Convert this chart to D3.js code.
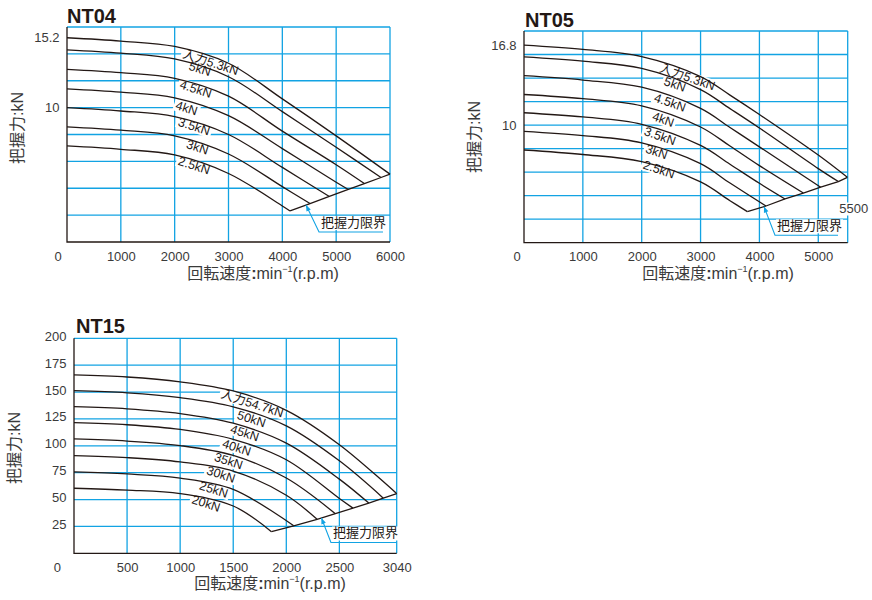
<!DOCTYPE html>
<html>
<head>
<meta charset="utf-8">
<script src="https://cdn.jsdelivr.net/npm/d3@7"></script>
<style>
  body { margin: 0; background: #fff; }
  svg { font-family: "Liberation Sans", Arial, "Noto Sans CJK JP", sans-serif; }
</style>
</head>
<body>
<div class="chart"></div>
<script>
// ---------- data ----------

// NT04 : grip force (kN) vs speed (min-1), one curve per input force
var nt04Labels = ["入力5.3kN", "5kN", "4.5kN", "4kN", "3.5kN", "3kN", "2.5kN"];
var nt04Rpm = [0, 1000, 2000, 3000, 4000, 5000];
var nt04Force = [
  [15.2, 14.95, 14.55, 13.3, 10.65, 7.9],
  [14.3, 14.05, 13.62, 12.3, 9.7, 7.05],
  [12.85, 12.6, 12.18, 10.85, 8.25, 5.75],
  [11.4, 11.15, 10.73, 9.4, 6.95, 4.45],
  [10.0, 9.75, 9.33, 8.0, 5.55],
  [8.57, 8.32, 7.9, 6.55, 4.12],
  [7.15, 6.9, 6.48, 5.1, 2.68]
];
var nt04EndRpm = [6000, 5833, 5523, 5226, 4873, 4514, 4143];
var nt04EndForce = [5.05, 4.8, 4.35, 3.91, 3.39, 2.86, 2.31];
var nt04XTicks = [1000, 2000, 3000, 4000, 5000, 6000];
var nt04YTicks = [15.2, 10];

// NT05
var nt05Labels = ["入力5.3kN", "5kN", "4.5kN", "4kN", "3.5kN", "3kN", "2.5kN"];
var nt05Rpm = [0, 1000, 2000, 3000, 3500, 4000, 5000];
var nt05Force = [
  [16.8, 16.43, 15.82, 14.12, 12.55, 10.9, 7.45],
  [15.8, 15.43, 14.82, 13.02, 11.4, 9.75, 6.3],
  [14.2, 13.83, 13.22, 11.42, 9.8, 8.15],
  [12.6, 12.25, 11.64, 9.84, 8.22, 6.55],
  [11.05, 10.69, 10.07, 8.27, 6.67, 5.05],
  [9.47, 9.11, 8.49, 6.72, 5.07],
  [7.88, 7.5, 6.89, 5.17, 3.57]
];
var nt05EndRpm = [5494, 5341, 5041, 4746, 4435, 4112, 3795];
var nt05EndForce = [5.56, 5.2, 4.72, 4.22, 3.72, 3.12, 2.64];
var nt05XTicks = [1000, 2000, 3000, 4000, 5000];
var nt05YTicks = [16.8, 10];

// NT15
var nt15Labels = ["入力54.7kN", "50kN", "45kN", "40kN", "35kN", "30kN", "25kN", "20kN"];
var nt15Rpm = [0, 500, 1000, 1500, 2000, 2500];
var nt15Force = [
  [166, 164, 159.5, 151, 133, 101],
  [151.3, 149.3, 144.8, 136.3, 118.5, 86],
  [136.4, 134.4, 130, 121, 102.5, 69],
  [121.6, 119.6, 115.2, 106, 87, 51],
  [106.4, 104.4, 100.2, 91, 70],
  [90.9, 89, 85, 76.5, 54],
  [75.7, 73.8, 70, 59.5],
  [60.5, 58.8, 55.5, 44]
];
var nt15EndRpm = [3040, 2914, 2777, 2628, 2462, 2290, 2070, 1860];
var nt15EndForce = [55.5, 51.3, 46.7, 42, 36.8, 31.6, 25.6, 20.1];
var nt15XTicks = [500, 1000, 1500, 2000, 2500, 3040];
var nt15YTicks = [25, 50, 75, 100, 125, 150, 175, 200];

// ---------- styling ----------
var blue = "#12a3e3";
var ink = "#231815";
var gray = "#3a3a3a";

var svg = d3.select(".chart")
  .append("svg")
  .attr("width", 872)
  .attr("height", 600);

// panel layouts (positions only, values come from the arrays above)
var panels = [
  {
    title: "NT04", labels: nt04Labels, rpm: nt04Rpm, force: nt04Force,
    endRpm: nt04EndRpm, endForce: nt04EndForce, xTicks: nt04XTicks, yTicks: nt04YTicks,
    xMax: 6000, yMax: 16, xGrid: d3.range(1000, 6001, 1000), yGrid: d3.range(2, 17, 2),
    left: 67, right: 390, top: 27, bottom: 242,
    titleX: 67, titleY: 23, yTitleX: 17, yTitleY: 128, xTitleX: 263, xTitleY: 279,
    zeroX: 58, xPad: 9.5,
    labelAngle: 18,
    labelPos: [[2671, 13.38], [2471, 12.89], [2393, 11.4], [2224, 9.97], [2363, 8.61], [2424, 7.06], [2363, 5.7]],
    tipRpm: 4440, elbow: [13, 27], underlineEnd: 383
  },
  {
    title: "NT05", labels: nt05Labels, rpm: nt05Rpm, force: nt05Force,
    endRpm: nt05EndRpm, endForce: nt05EndForce, xTicks: nt05XTicks, yTicks: nt05YTicks,
    xMax: 5500, yMax: 18, xGrid: [1000, 2000, 3000, 4000, 5000, 5500], yGrid: d3.range(2, 19, 2),
    left: 524, right: 847.7, top: 31, bottom: 242.7,
    titleX: 525, titleY: 26.7, yTitleX: 474, yTitleY: 137, xTitleX: 718, xTitleY: 279,
    zeroX: 517, xPad: 9.5,
    labelAngle: 19,
    labelPos: [[2778, 14.1], [2566, 13.47], [2481, 11.93], [2367, 10.49], [2311, 9.07], [2255, 7.73], [2294, 6.24]],
    tipRpm: 4078, elbow: [11, 28.7], underlineEnd: 838,
    endLabel: "5500"
  },
  {
    title: "NT15", labels: nt15Labels, rpm: nt15Rpm, force: nt15Force,
    endRpm: nt15EndRpm, endForce: nt15EndForce, xTicks: nt15XTicks, yTicks: nt15YTicks,
    xMax: 3040, yMax: 200, xGrid: nt15XTicks, yGrid: nt15YTicks,
    left: 74, right: 396.7, top: 338.3, bottom: 553.3,
    titleX: 76, titleY: 333.3, yTitleX: 14, yTitleY: 448, xTitleX: 270, xTitleY: 589,
    zeroX: 57.3, xPad: 9,
    labelAngle: 18,
    labelPos: [[1681, 139.5], [1673, 125], [1609, 112], [1533, 98.5], [1457, 86], [1385, 73.5], [1317, 59.5], [1245, 46.5]],
    tipRpm: 2331, elbow: [9.5, 24.5], underlineEnd: 396.7
  }
];

panels.forEach(drawPanel);

function drawPanel(p) {
  var x = d3.scaleLinear().domain([0, p.xMax]).range([p.left, p.right]);
  var y = d3.scaleLinear().domain([0, p.yMax]).range([p.bottom, p.top]);

  var g = svg.append("g");
  var gridG = g.append("g");
  var bgG = g.append("g");
  var curveG = g.append("g");
  var axisG = g.append("g");
  var textG = g.append("g");

  // blue grid (the last line of each set is the top / right frame)
  gridG.selectAll(".vg")
    .data(p.xGrid)
    .enter()
    .append("line")
    .attr("x1", d => x(d)).attr("x2", d => x(d))
    .attr("y1", p.top).attr("y2", p.bottom)
    .attr("stroke", blue).attr("stroke-width", 1.3);

  gridG.selectAll(".hg")
    .data(p.yGrid)
    .enter()
    .append("line")
    .attr("x1", p.left).attr("x2", p.right)
    .attr("y1", d => y(d)).attr("y2", d => y(d))
    .attr("stroke", blue).attr("stroke-width", 1.3);

  // curves
  var line = d3.line()
    .x(d => x(d[0]))
    .y(d => y(d[1]))
    .curve(d3.curveCatmullRom.alpha(0.5));

  var series = p.force.map(function(vals, i) {
    var pts = vals.map((v, j) => [p.rpm[j], v]);
    pts.push([p.endRpm[i], p.endForce[i]]);
    return pts;
  });

  curveG.selectAll("path")
    .data(series)
    .enter()
    .append("path")
    .attr("d", line)
    .attr("fill", "none")
    .attr("stroke", ink)
    .attr("stroke-width", 1.3);

  // grip limit line through the curve ends
  var ends = p.endRpm.map((r, i) => [r, p.endForce[i]]).sort((a, b) => a[0] - b[0]);
  curveG.append("path")
    .attr("d", d3.line().x(d => x(d[0])).y(d => y(d[1]))(ends))
    .attr("fill", "none")
    .attr("stroke", ink)
    .attr("stroke-width", 1.3);

  // black left / bottom axes
  axisG.append("path")
    .attr("d", `M${p.left},${p.top}V${p.bottom}H${p.right}`)
    .attr("fill", "none")
    .attr("stroke", ink)
    .attr("stroke-width", 1.3);

  // curve labels, with white boxes that break the grid behind them
  p.labels.forEach(function(t, i) {
    var pos = p.labelPos[i];
    var tr = `translate(${x(pos[0])},${y(pos[1])}) rotate(${p.labelAngle})`;
    var txt = textG.append("text")
      .attr("transform", tr)
      .attr("text-anchor", "middle")
      .attr("dy", "0.35em")
      .attr("font-size", 12.5)
      .attr("fill", ink)
      .text(t);
    var bb = txt.node().getBBox();
    bgG.append("rect")
      .attr("transform", tr)
      .attr("x", bb.x - 2).attr("y", bb.y + 1)
      .attr("width", bb.width + 4).attr("height", bb.height - 2)
      .attr("fill", "#fff");
  });

  // x axis ticks
  var xAxis = d3.axisBottom(x).tickValues(p.xTicks).tickSize(0).tickPadding(p.xPad).tickFormat(d3.format("d"));
  var xa = g.append("g")
    .attr("transform", `translate(0, ${p.bottom})`)
    .call(xAxis);
  xa.select(".domain").remove();
  xa.attr("font-family", null).attr("font-size", 13);
  xa.selectAll("text").attr("fill", gray);

  // y axis ticks
  var yAxis = d3.axisLeft(y).tickValues(p.yTicks).tickSize(0).tickPadding(7.5).tickFormat(d => d);
  var ya = g.append("g")
    .attr("transform", `translate(${p.left}, 0)`)
    .call(yAxis);
  ya.select(".domain").remove();
  ya.attr("font-family", null).attr("font-size", 13);
  ya.selectAll("text").attr("fill", gray).attr("dy", p.yMax > 100 ? "0.15em" : "0.32em");

  // origin label
  g.append("text")
    .attr("x", p.zeroX)
    .attr("y", p.bottom + p.xPad)
    .attr("dy", "0.71em")
    .attr("text-anchor", "middle")
    .attr("font-size", 13)
    .attr("fill", gray)
    .text("0");

  // panel title
  g.append("text")
    .attr("x", p.titleX)
    .attr("y", p.titleY)
    .attr("font-size", 20)
    .attr("font-weight", "bold")
    .attr("fill", ink)
    .text(p.title);

  // axis titles
  var xt = g.append("text")
    .attr("x", p.xTitleX)
    .attr("y", p.xTitleY)
    .attr("text-anchor", "middle")
    .attr("font-size", 16)
    .attr("fill", gray);
  xt.append("tspan").text("回転速度");
  xt.append("tspan").attr("font-weight", "bold").text(":");
  xt.append("tspan").text("min");
  xt.append("tspan").attr("font-size", 9).attr("dy", -7).text("−1");
  xt.append("tspan").attr("dy", 7).text("(r.p.m)");

  g.append("text")
    .attr("transform", `translate(${p.yTitleX}, ${p.yTitleY}) rotate(-90)`)
    .attr("text-anchor", "middle")
    .attr("dy", "0.35em")
    .attr("font-size", 16)
    .attr("fill", gray)
    .text("把握力:kN");

  // "grip limit" call-out with a blue leader
  var limitAt = d3.scaleLinear().domain(ends.map(d => d[0])).range(ends.map(d => d[1]));
  var tip = [x(p.tipRpm), y(limitAt(p.tipRpm))];
  var elb = [tip[0] + p.elbow[0], tip[1] + p.elbow[1]];

  var ct = g.append("text")
    .attr("x", elb[0] + 2)
    .attr("y", elb[1] - 5)
    .attr("font-size", 13)
    .attr("fill", ink)
    .text("把握力限界");
  var cb = ct.node().getBBox();
  g.insert("rect", function() { return ct.node(); })
    .attr("x", cb.x - 1).attr("y", cb.y + 1)
    .attr("width", cb.width + 2).attr("height", cb.height - 1)
    .attr("fill", "#fff");

  g.append("path")
    .attr("d", `M${p.underlineEnd},${elb[1]}H${elb[0]}L${tip[0]},${tip[1]}`)
    .attr("fill", "none")
    .attr("stroke", blue)
    .attr("stroke-width", 1.1);

  var ang = Math.atan2(tip[1] - elb[1], tip[0] - elb[0]) * 180 / Math.PI;
  g.append("path")
    .attr("d", "M0,0L-6,-2.4L-6,2.4Z")
    .attr("transform", `translate(${tip[0]},${tip[1]}) rotate(${ang})`)
    .attr("fill", blue);

  // NT05 has its max speed written beside the frame
  if (p.endLabel) {
    var el = g.append("text")
      .attr("x", x(p.xMax) + 6)
      .attr("y", y(2.87))
      .attr("dy", "0.35em")
      .attr("text-anchor", "middle")
      .attr("font-size", 13)
      .attr("fill", gray)
      .text(p.endLabel);
    var eb = el.node().getBBox();
    g.insert("rect", function() { return el.node(); })
      .attr("x", eb.x).attr("y", eb.y + 1)
      .attr("width", eb.width).attr("height", eb.height - 2)
      .attr("fill", "#fff");
  }
}
</script>
</body>
</html>
